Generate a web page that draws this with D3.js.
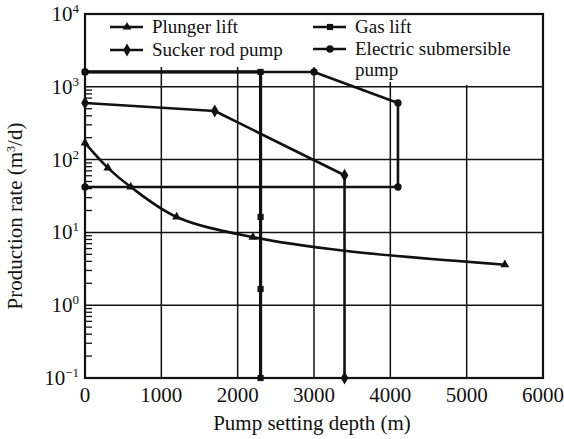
<!DOCTYPE html>
<html>
<head>
<meta charset="utf-8">
<script src="https://cdn.jsdelivr.net/npm/d3@7"></script>
<style>
  body { margin: 0; background: #fff; }
  svg { font-family: "Liberation Serif", "Times New Roman", serif; }
</style>
</head>
<body>
<div id="chart"></div>
<script>
// values
var xTicks = [0, 1000, 2000, 3000, 4000, 5000, 6000];
var yExponents = [-1, 0, 1, 2, 3, 4];

var plungerDepth = [0, 300, 600, 1200, 2200, 3400, 5500];
var plungerRate = [170, 77, 42, 16.3, 8.6, 5.6, 3.6];
var plungerMarked = [0, 1, 2, 3, 4, 6];

var suckerDepth = [0, 1700, 3400, 3400];
var suckerRate = [600, 465, 61, 0.1];

var gasDepth = [0, 2300, 2300, 2300, 2300];
var gasRate = [1600, 1600, 16.3, 1.67, 0.1];

var espDepth = [0, 3000, 4100, 4100, 0];
var espRate = [1600, 1600, 600, 42, 42];

var WIDTH = 564, HEIGHT = 439;
var MARGINS = { top: 14, right: 21, bottom: 61, left: 85 };
var FONT = 21;

var svg = d3.select("#chart").append("svg")
  .attr("width", WIDTH).attr("height", HEIGHT);

var xScale = d3.scaleLinear().domain([0, 6000])
  .range([MARGINS.left, WIDTH - MARGINS.right]);
var yScale = d3.scaleLog().domain([0.1, 10000])
  .range([HEIGHT - MARGINS.bottom, MARGINS.top]);

var x0 = xScale.range()[0], x1 = xScale.range()[1];
var yB = yScale.range()[0], yT = yScale.range()[1];

// grid
var grid = svg.append("g").attr("stroke", "#111").attr("stroke-width", 1.5);
xTicks.slice(1, -1).forEach(function(v) {
  grid.append("line").attr("x1", xScale(v)).attr("x2", xScale(v))
    .attr("y1", yB).attr("y2", yT);
});
yExponents.slice(1, -1).forEach(function(e) {
  grid.append("line").attr("x1", x0).attr("x2", x1)
    .attr("y1", yScale(Math.pow(10, e))).attr("y2", yScale(Math.pow(10, e)));
});

// minor ticks on the left axis, top ticks
var ticks = svg.append("g").attr("stroke", "#111").attr("stroke-width", 1.3);
yExponents.slice(0, -1).forEach(function(e) {
  for (var k = 2; k <= 9; k++) {
    var yy = yScale(k * Math.pow(10, e));
    ticks.append("line").attr("x1", x0).attr("x2", x0 + 7).attr("y1", yy).attr("y2", yy);
  }
});
xTicks.slice(1, -1).forEach(function(v) {
  ticks.append("line").attr("x1", xScale(v)).attr("x2", xScale(v))
    .attr("y1", yT).attr("y2", yT + 6);
});

// legend background
svg.append("rect").attr("x", x0 + 1).attr("y", yT + 1)
  .attr("width", x1 - x0 - 2).attr("height", 52).attr("fill", "#fff");
svg.append("rect").attr("x", 350).attr("y", yT + 50)
  .attr("width", 58).attr("height", 18).attr("fill", "#fff");
svg.append("rect").attr("x", 440).attr("y", yT + 50)
  .attr("width", x1 - 441).attr("height", 21).attr("fill", "#fff");

// frame
svg.append("rect").attr("x", x0).attr("y", yT)
  .attr("width", x1 - x0).attr("height", yB - yT)
  .attr("fill", "none").attr("stroke", "#111").attr("stroke-width", 2.2);

function toPoints(xs, ys) {
  return xs.map(function(d, i) { return { x: d, y: ys[i] }; });
}

var straight = d3.line().x(function(d) { return xScale(d.x); })
  .y(function(d) { return yScale(d.y); });
var smooth = d3.line().curve(d3.curveCatmullRom.alpha(0.5))
  .x(function(d) { return xScale(d.x); })
  .y(function(d) { return yScale(d.y); });

var tri = d3.symbol().type(d3.symbolTriangle).size(34);
var dia = d3.symbol().type(d3.symbolDiamond).size(50);
var sq = d3.symbol().type(d3.symbolSquare).size(38);
var circ = d3.symbol().type(d3.symbolCircle).size(42);

var lines = svg.append("g").attr("fill", "none").attr("stroke", "#111")
  .attr("stroke-linejoin", "round");

var plunger = toPoints(plungerDepth, plungerRate);
var sucker = toPoints(suckerDepth, suckerRate);
var gas = toPoints(gasDepth, gasRate);
var esp = toPoints(espDepth, espRate);

lines.append("path").attr("d", straight(esp)).attr("stroke-width", 2.6);
lines.append("path").attr("d", straight(sucker)).attr("stroke-width", 2.6);
lines.append("path").attr("d", straight(gas)).attr("stroke-width", 3.2);
lines.append("path").attr("d", smooth(plunger)).attr("stroke-width", 2.6);

var marks = svg.append("g").attr("fill", "#111");
function drawMarks(pts, sym) {
  pts.forEach(function(p) {
    marks.append("path").attr("d", sym)
      .attr("transform", "translate(" + xScale(p.x) + "," + yScale(p.y) + ")");
  });
}
drawMarks(plungerMarked.map(function(i) { return plunger[i]; }), tri);
drawMarks(sucker, dia);
drawMarks(gas, sq);
drawMarks(esp, circ);

// legend
var LEG_FONT = 19;
var legendItems = [
  { label: ["Plunger lift"], sym: tri, lx: 110, ly: 27 },
  { label: ["Sucker rod pump"], sym: dia, lx: 110, ly: 50 },
  { label: ["Gas lift"], sym: sq, lx: 313, ly: 27 },
  { label: ["Electric submersible", "pump"], sym: circ, lx: 313, ly: 49 }
];
var legend = svg.append("g");
legendItems.forEach(function(d) {
  legend.append("line").attr("x1", d.lx).attr("x2", d.lx + 33)
    .attr("y1", d.ly).attr("y2", d.ly).attr("stroke", "#111").attr("stroke-width", 2.4);
  legend.append("path").attr("d", d.sym).attr("fill", "#111")
    .attr("transform", "translate(" + (d.lx + 17) + "," + d.ly + ")");
  d.label.forEach(function(t, j) {
    legend.append("text").attr("x", d.lx + 42).attr("y", d.ly + 6 + j * 21)
      .attr("font-size", LEG_FONT).attr("fill", "#111").text(t);
  });
});

// x tick labels
svg.append("g").selectAll("text").data(xTicks).enter().append("text")
  .attr("x", function(d) { return xScale(d); })
  .attr("y", yB + 24)
  .attr("text-anchor", "middle").attr("font-size", FONT).attr("fill", "#111")
  .text(function(d) { return d; });

// y tick labels 10^n
var yLab = svg.append("g").selectAll("text").data(yExponents).enter().append("text")
  .attr("x", x0 - 6)
  .attr("y", function(d) { return yScale(Math.pow(10, d)) + 7; })
  .attr("text-anchor", "end").attr("font-size", FONT).attr("fill", "#111");
yLab.append("tspan").text("10");
yLab.append("tspan").attr("font-size", 13).attr("dy", -8)
  .text(function(d) { return d < 0 ? "\u2212" + (-d) : d; });

// axis titles
svg.append("text").attr("x", (x0 + x1) / 2 - 2).attr("y", HEIGHT - 9)
  .attr("text-anchor", "middle").attr("font-size", FONT).attr("fill", "#111")
  .text("Pump setting depth (m)");

var yt = svg.append("text")
  .attr("transform", "translate(22," + 216 + ") rotate(-90)")
  .attr("text-anchor", "middle").attr("font-size", FONT).attr("fill", "#111");
yt.append("tspan").text("Production rate (m");
yt.append("tspan").attr("font-size", 12).attr("dy", -7).text("3");
yt.append("tspan").attr("dy", 7).text("/d)");
</script>
</body>
</html>
